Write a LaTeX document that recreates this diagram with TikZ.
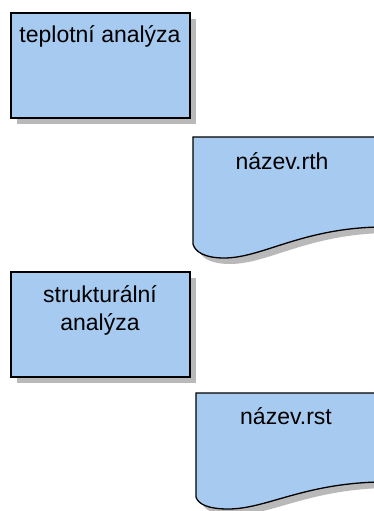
\documentclass[tikz,border=0pt]{standalone}
\usepackage{fontspec}
\setmainfont{Liberation Sans}
\usepackage{xcolor}
\usepackage{tikz}
\usetikzlibrary{shadows}
\definecolor{boxblue}{RGB}{166,202,240}
\definecolor{shadowgray}{RGB}{185,185,185}

\begin{document}
\begin{tikzpicture}[x=1pt, y=-1pt,
  blockshape/.style={draw=black, line width=1.3pt, fill=boxblue,
    drop shadow={shadow xshift=6pt, shadow yshift=-6pt, fill=shadowgray, opacity=1}},
  boxtext/.style={font=\fontsize{23}{28}\selectfont, align=center, inner sep=0pt}]
\useasboundingbox (0,0) rectangle (374,511);
%%%%% Processes %%%%%
\draw[blockshape] (11,13) rectangle (190,118);
\node[boxtext] (teplotni) at (100,36) {teplotní analýza};
\draw[blockshape] (11,272) rectangle (190,377);
\node[boxtext] (strukturalni) at (100,310) {strukturální\\analýza};
%%%%% Documents %%%%%
\draw[blockshape] (193,137) -- (378,137) -- (378,227)
  .. controls (300,229) and (262,258) .. (224,258)
  .. controls (205,258) and (195,252) .. (193,244) -- cycle;
\node[boxtext] (rth) at (282,161) {název.rth};
\draw[blockshape] (196,393) -- (378,393) -- (378,482)
  .. controls (302,484) and (266,509) .. (228,509)
  .. controls (208,509) and (198,504) .. (196,497) -- cycle;
\node[boxtext] (rst) at (286,416) {název.rst};
\end{tikzpicture}
\end{document}
